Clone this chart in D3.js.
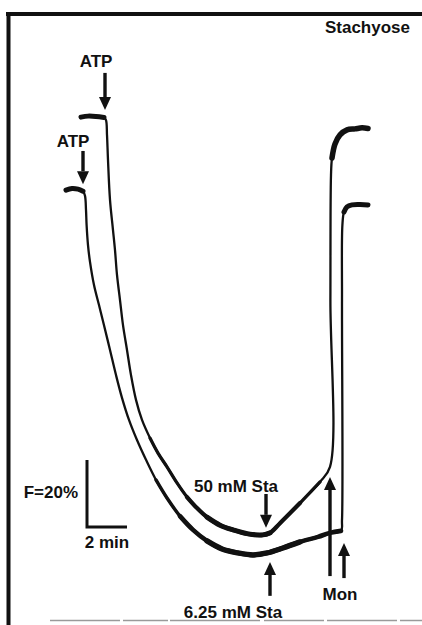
<!DOCTYPE html>
<html><head><meta charset="utf-8">
<script src="https://cdn.jsdelivr.net/npm/d3@7"></script>
<style>html,body{margin:0;padding:0;background:#fff;}svg{display:block;}</style>
</head><body>
<script>
// Time in minutes, fluorescence F in % (arbitrary zero)
const upperTime = [1.05,1.40,1.80,2.20,2.30,2.35,2.40,2.50,2.65,2.75,2.85,3.00,3.15,3.35,3.55,3.80,4.10,4.50,4.90,5.35,5.85,6.35,6.85,7.35,8.00,8.65,9.40,10.15,10.50,11.0,12.0,13.0,13.5,13.52,13.55,13.6,13.75,14.0,14.35,14.75,15.1,15.4];
const upperF    = [132.2,132.5,132.4,132.1,131.3,126.9,119.4,107.5,98.5,92.5,85.1,77.6,70.1,62.7,55.2,47.8,41.8,36.4,31.9,27.8,23.0,18.8,15.5,12.8,10.4,9.0,7.8,7.5,8.1,11.0,17.0,23.3,27.8,77.6,114.9,120.0,124.2,126.9,128.4,128.7,129.0,128.8];
const lowerTime = [0.30,0.60,0.90,1.15,1.25,1.30,1.33,1.40,1.50,1.70,1.95,2.20,2.50,2.80,3.10,3.45,3.85,4.30,4.80,5.35,6.00,6.65,7.35,8.10,8.90,9.65,10.35,11.15,12.0,12.9,13.5,14.05,14.1,14.1,14.12,14.2,14.35,14.6,15.0,15.4];
const lowerF    = [110.4,110.9,110.7,110.1,108.7,104.5,100.0,94.0,89.0,82.1,76.1,70.1,62.7,55.2,48.4,41.8,35.8,29.9,23.9,18.5,13.1,9.0,5.7,3.3,2.1,1.5,2.1,3.6,5.4,6.9,8.1,8.7,11.9,77.6,100.0,103.9,105.4,106.0,106.1,106.0];

// Arrows: time, tail F, tip F
const arrowTime = [2.25, 1.15, 10.3, 10.5, 13.5, 14.2];
const arrowTail = [145.4, 122.1, 19.7, -10.7, -4.8, -5.4];
const arrowTip  = [134.3, 112.2, 9.6, -0.6, 24.8, 5.1];

// Labels
const labelText = ["ATP", "ATP", "50 mM Sta", "6.25 mM Sta", "Mon"];
const labelTime = [1.8, 0.65, 8.8, 8.65, 14.0];
const labelF    = [147.2, 123.3, 20.3, -17.3, -11.9];

// Scale bar: 2 min x 20 %
const barTime = 1.35, barF = 9.85, barMin = 2, barPct = 20;

const W = 422, H = 625;
const svg = d3.select("body").append("svg").attr("width", W).attr("height", H);
const x = d3.scaleLinear().domain([0, 16]).range([60, 380]);
const y = d3.scaleLinear().domain([0, 100]).range([560, 225]);
const ink = "#111";
const font = "'Liberation Sans', Arial, Helvetica, sans-serif";

// frame
svg.append("line").attr("x1", 6).attr("x2", W).attr("y1", 14).attr("y2", 14).attr("stroke", ink).attr("stroke-width", 4);
svg.append("line").attr("x1", 8.5).attr("x2", 8.5).attr("y1", 12).attr("y2", H).attr("stroke", ink).attr("stroke-width", 4);
svg.append("line").attr("x1", 50).attr("x2", W).attr("y1", 620.5).attr("y2", 620.5).attr("stroke", "#9a9a9a").attr("stroke-width", 1.6).attr("stroke-dasharray", "70 3 45 2 90 4 60 3");

svg.append("text").attr("x", 410).attr("y", 33).attr("text-anchor", "end")
  .attr("font-family", font).attr("font-weight", "bold").attr("font-size", 17).attr("fill", ink).text("Stachyose");

const line = d3.line().x(d => x(d[0])).y(d => y(d[1])).curve(d3.curveCatmullRom.alpha(0.5));
function drawTrace(T, F, thick) {
  const pts = T.map((t, i) => [t, F[i]]);
  svg.append("path").attr("d", line(pts)).attr("fill", "none").attr("stroke", ink)
    .attr("stroke-width", 2.3).attr("stroke-linejoin", "round").attr("stroke-linecap", "round");
  thick.forEach(([t0, t1, w]) => {
    const seg = pts.filter(p => p[0] >= t0 && p[0] <= t1);
    svg.append("path").attr("d", line(seg)).attr("fill", "none").attr("stroke", ink)
      .attr("stroke-width", w).attr("stroke-linejoin", "round").attr("stroke-linecap", "round");
  });
}
drawTrace(upperTime, upperF, [[1.0, 2.25, 5], [4.5, 13.0, 3.2], [6.3, 12.5, 4.2], [7.3, 10.6, 5], [13.6, 15.5, 5.5]]);
drawTrace(lowerTime, lowerF, [[0.2, 1.2, 5], [4.8, 13.5, 3.4], [6.0, 14.05, 4.6], [7.3, 12.0, 5.4], [14.2, 15.5, 5]]);

// arrows
arrowTime.forEach((t, i) => {
  const xa = x(t), y0 = y(arrowTail[i]), y1 = y(arrowTip[i]);
  const dir = y1 > y0 ? 1 : -1, hl = 13, hw = 6;
  svg.append("line").attr("x1", xa).attr("x2", xa).attr("y1", y0).attr("y2", y1 - dir * hl)
    .attr("stroke", ink).attr("stroke-width", 3.4);
  svg.append("path").attr("d", `M${xa - hw},${y1 - dir * hl}L${xa + hw},${y1 - dir * hl}L${xa},${y1}Z`).attr("fill", ink);
});

// labels
labelText.forEach((s, i) => {
  svg.append("text").attr("x", x(labelTime[i])).attr("y", y(labelF[i])).attr("text-anchor", "middle")
    .attr("font-family", font).attr("font-weight", "bold").attr("font-size", 17).attr("fill", ink).text(s);
});

// scale bar
const bx = x(barTime), by = y(barF);
svg.append("path").attr("d", `M${bx},${y(barF + barPct)}L${bx},${by}L${x(barTime + barMin)},${by}`)
  .attr("fill", "none").attr("stroke", ink).attr("stroke-width", 3);
svg.append("text").attr("x", bx - 9).attr("y", by - 29).attr("text-anchor", "end")
  .attr("font-family", font).attr("font-weight", "bold").attr("font-size", 17).attr("fill", ink).text("F=20%");
svg.append("text").attr("x", x(barTime + barMin / 2)).attr("y", by + 21).attr("text-anchor", "middle")
  .attr("font-family", font).attr("font-weight", "bold").attr("font-size", 17).attr("fill", ink).text("2 min");
</script>
</body></html>
